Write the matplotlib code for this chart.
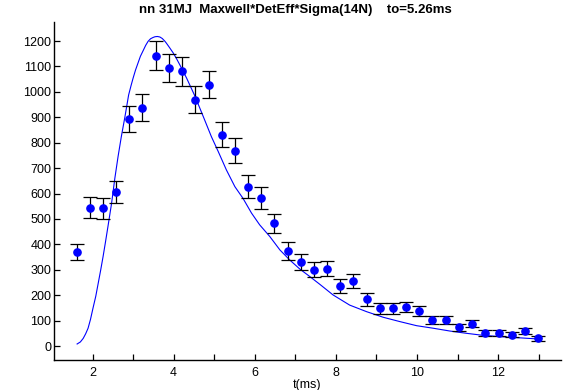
import numpy as np
import matplotlib
matplotlib.use("Agg")
import matplotlib.pyplot as plt

plt.rcParams["font.family"] = ["Liberation Sans", "DejaVu Sans"]

# Measured points
t_data = [1.61, 1.93, 2.26, 2.58, 2.91, 3.23, 3.56, 3.88, 4.21, 4.53, 4.86, 5.18,
          5.51, 5.83, 6.16, 6.48, 6.81, 7.13, 7.46, 7.78, 8.11, 8.43, 8.76, 9.08,
          9.41, 9.73, 10.06, 10.38, 10.71, 11.03, 11.36, 11.68, 12.01, 12.33, 12.66, 12.98]
counts = [370, 545, 542, 605, 893, 937, 1143, 1094, 1081, 970, 1029, 832,
          769, 626, 584, 483, 374, 332, 301, 305, 236, 257, 184, 148,
          148, 152, 139, 102, 102, 74, 87, 52, 52, 45, 60, 30]
errors = [33, 40, 41, 43, 52, 53, 58, 57, 56, 53, 55, 50,
          49, 45, 43, 38, 35, 32, 31, 31, 27, 27, 25, 21,
          21, 20, 19, 16, 16, 14, 14, 11, 11, 11, 12, 9]

# Maxwell*DetEff*Sigma model curve
t_model = [1.62, 1.70, 1.77, 1.83, 1.89, 1.95, 2.01, 2.08, 2.14, 2.20, 2.26, 2.32,
           2.38, 2.47, 2.55, 2.63, 2.71, 2.80, 2.89, 2.95, 3.00, 3.06, 3.12, 3.18,
           3.25, 3.31, 3.37, 3.43, 3.49, 3.54, 3.60, 3.66, 3.72, 3.78, 3.82, 3.90,
           3.99, 4.07, 4.15, 4.32, 4.52, 4.73, 4.93, 5.10, 5.30, 5.51, 5.71, 5.92,
           6.12, 6.37, 6.62, 6.86, 7.11, 7.36, 7.61, 7.93, 8.34, 8.76, 9.17, 9.58,
           9.99, 10.40, 10.81, 11.22, 11.63, 12.04, 12.45, 12.86, 12.98]
model = [8, 16, 30, 48, 70, 105, 148, 196, 247, 298, 352, 410,
         470, 562, 660, 746, 824, 903, 988, 1025, 1054, 1086, 1113, 1140,
         1163, 1183, 1199, 1209, 1214, 1217, 1218, 1216, 1210, 1200, 1192, 1174,
         1153, 1131, 1107, 1054, 985, 903, 824, 765, 693, 627, 581, 523,
         477, 431, 378, 339, 303, 273, 242, 201, 161, 135, 113, 96,
         80, 70, 59, 50, 42, 37, 33, 29, 28]

x_ticks = list(range(2, 14))
x_labels = [str(v) if v % 2 == 0 else "" for v in x_ticks]
y_ticks = list(range(0, 1300, 100))

fig = plt.figure(figsize=(5.87, 3.90), dpi=100)
ax = fig.add_axes([54 / 587, 30 / 390, 507 / 587, 338 / 390])

ax.plot(t_model, model, color="#0000ff", lw=0.8)
ax.errorbar(t_data, counts, yerr=errors, fmt="o", color="#0000ff", ms=5.2,
            ecolor="black", elinewidth=0.9, capsize=5, capthick=0.9, zorder=3)

ax.set_xlim(1.05, 13.55)
ax.set_ylim(-55, 1275)
ax.set_xticks(x_ticks)
ax.set_xticklabels(x_labels)
ax.set_yticks(y_ticks)

for s in ["top", "right"]:
    ax.spines[s].set_visible(False)
for s in ["left", "bottom"]:
    ax.spines[s].set_linewidth(1.0)

ax.tick_params(axis="both", direction="in", length=4.5, width=0.9, labelsize=9)
ax.tick_params(axis="x", pad=5)
ax.tick_params(axis="y", pad=2)

ax.set_xlabel("t(ms)", fontsize=9, labelpad=0)
fig.text(295 / 587, 1 - 10.5 / 390, "nn 31MJ  Maxwell*DetEff*Sigma(14N)    to=5.26ms",
         ha="center", va="center", fontsize=9.5, fontweight="bold")

fig.savefig("out.png", dpi=100)
